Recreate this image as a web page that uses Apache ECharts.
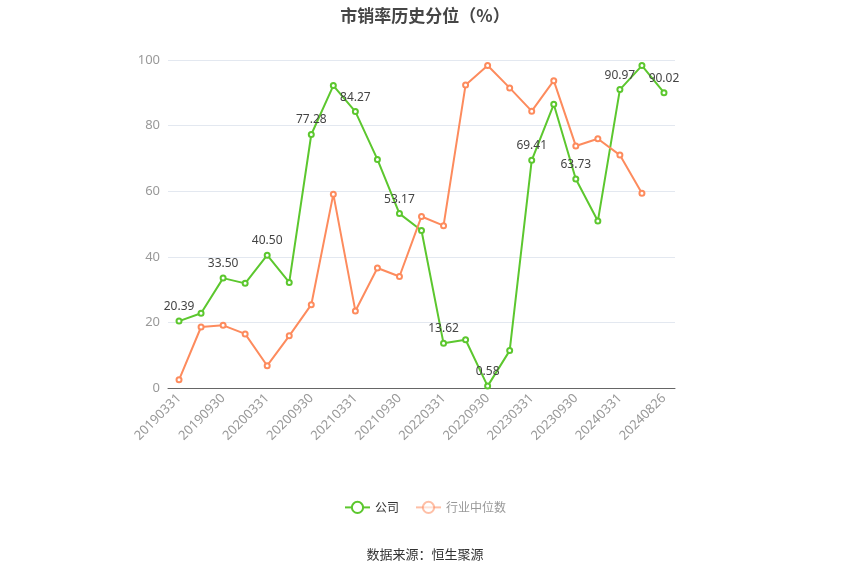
<!DOCTYPE html>
<html><head><meta charset="utf-8">
<script src="https://cdn.jsdelivr.net/npm/echarts@6/dist/echarts.min.js"></script>
<style>html,body{margin:0;padding:0;background:#fff}#c{width:850px;height:575px}</style>
</head><body><div id="c"></div>
<script>
const categories = ['20190331','20190630','20190930','20191231','20200331','20200630','20200930','20201231','20210331','20210630','20210930','20211231','20220331','20220630','20220930','20221231','20230331','20230630','20230930','20231231','20240331','20240630','20240826'];
const companyValues = [20.39,22.8,33.50,31.9,40.50,32.2,77.28,92.2,84.27,69.7,53.17,48.0,13.62,14.7,0.58,11.4,69.41,86.5,63.73,50.9,90.97,98.3,90.02];
const industryMedian = [2.5,18.6,19.1,16.5,6.8,15.9,25.4,59.1,23.5,36.6,34.0,52.3,49.5,92.4,98.3,91.5,84.4,93.7,73.8,76.0,71.0,59.4,null];
const yTicks = [0,20,40,60,80,100];
const chart = echarts.init(document.getElementById('c'));
chart.setOption({
  animation:false,
  title:{text:'市销率历史分位（%）',left:'center',top:2,textStyle:{fontSize:17,fontWeight:'bold',color:'#464646',fontFamily:'Noto Sans CJK SC'}},
  legend:{bottom:56,itemGap:16,itemWidth:25,itemHeight:14,textStyle:{fontSize:12,fontFamily:'Noto Sans CJK SC'},
    data:[{name:'公司',textStyle:{color:'#333'}},{name:'行业中位数',itemStyle:{opacity:0.55},lineStyle:{opacity:0.55},textStyle:{color:'#999'}}]},
  grid:{left:168,right:175,top:60,bottom:187},
  xAxis:{type:'category',data:categories,boundaryGap:true,
    axisLine:{lineStyle:{color:'#666'}},
    axisTick:{interval:1,alignWithLabel:true,lineStyle:{color:'#666'}},
    axisLabel:{interval:1,rotate:45,color:'#999',fontSize:13,fontFamily:'Noto Sans'}},
  yAxis:{type:'value',min:yTicks[0],max:yTicks[yTicks.length-1],interval:20,
    axisLine:{show:false},axisTick:{show:false},
    axisLabel:{color:'#999',fontSize:13,fontFamily:'Noto Sans'},
    splitLine:{lineStyle:{color:'#e3e8f0'}}},
  series:[
    {name:'公司',type:'line',data:companyValues,color:'#5cc72e',symbol:'emptyCircle',symbolSize:5,
      lineStyle:{width:2},
      label:{show:true,position:'top',color:'#444',fontSize:12,fontFamily:'Noto Sans',
        formatter:p=>p.dataIndex%2===0?p.value.toFixed(2):''}},
    {name:'行业中位数',type:'line',data:industryMedian,color:'#fd8b5d',symbol:'emptyCircle',symbolSize:5,
      lineStyle:{width:2}}
  ],
  graphic:[{type:'text',left:'center',top:548,style:{text:'数据来源：恒生聚源',fill:'#333',fontSize:13,fontFamily:'Noto Sans CJK SC'}}]
});
</script></body></html>
